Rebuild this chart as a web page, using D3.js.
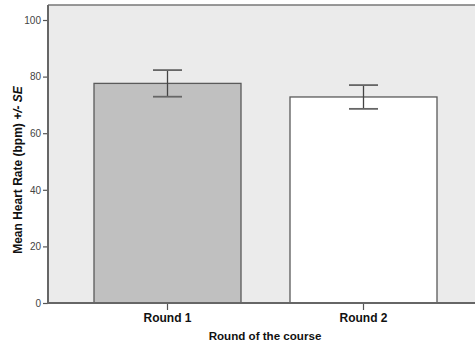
<!DOCTYPE html>
<html><head><meta charset="utf-8">
<script src="https://cdn.jsdelivr.net/npm/d3@7"></script>
<style>body{margin:0;background:#fff}svg{display:block}</style>
</head><body>
<svg id="c" width="475" height="344"></svg>
<script>
const categories = ["Round 1", "Round 2"];
const means = [77.6, 72.8];
const upper = [82.3, 77.0];
const lower = [72.9, 68.6];
const yTicks = [0, 20, 40, 60, 80, 100];
const fills = ["#c0c0c0", "#ffffff"];

const svg = d3.select("#c");
const L = 48, R = 475, T = 5, B = 303;
const y = d3.scaleLinear().domain([0, 100]).range([B, 20]);
const x = d3.scaleBand().domain(categories).range([69.5, 461.5]).paddingInner(0.25).paddingOuter(0.125);

svg.append("rect").attr("x", L).attr("y", T).attr("width", R - L).attr("height", B - T).attr("fill", "#ebebeb");
svg.append("line").attr("x1", L).attr("x2", R).attr("y1", T).attr("y2", T).attr("stroke", "#777").attr("stroke-width", 1.5);

svg.selectAll("rect.bar").data(categories).enter().append("rect").attr("class", "bar")
  .attr("x", d => x(d)).attr("width", x.bandwidth())
  .attr("y", (d, i) => y(means[i])).attr("height", (d, i) => y(0) - y(means[i]))
  .attr("fill", (d, i) => fills[i]).attr("stroke", "#5a5a5a").attr("stroke-width", 1.3);

const eb = svg.append("g").attr("stroke", "#444").attr("stroke-width", 1.3);
categories.forEach((c, i) => {
  const cx = x(c) + x.bandwidth() / 2;
  eb.append("line").attr("x1", cx).attr("x2", cx).attr("y1", y(upper[i])).attr("y2", y(lower[i]));
  eb.append("line").attr("x1", cx - 14.5).attr("x2", cx + 14.5).attr("y1", y(upper[i])).attr("y2", y(upper[i])).attr("stroke", "#666").attr("stroke-width", 1.8);
  eb.append("line").attr("x1", cx - 14.5).attr("x2", cx + 14.5).attr("y1", y(lower[i])).attr("y2", y(lower[i])).attr("stroke", "#666").attr("stroke-width", 1.8);
});

// y axis
const ya = svg.append("g").attr("transform", `translate(${L},0)`)
  .call(d3.axisLeft(y).tickValues(yTicks).tickSize(5).tickPadding(2));
ya.select(".domain").remove();
ya.selectAll(".tick line").attr("stroke", "#555").attr("stroke-width", 1.2);
ya.selectAll(".tick text").attr("fill", "#444").style("font-family", "Liberation Sans, Arial, sans-serif").style("font-size", "10px");
svg.append("line").attr("x1", L).attr("x2", L).attr("y1", T).attr("y2", B + 1).attr("stroke", "#666").attr("stroke-width", 2);

// x axis
const xa = svg.append("g").attr("transform", `translate(0,${B})`)
  .call(d3.axisBottom(x).tickSize(7).tickPadding(3));
xa.select(".domain").remove();
xa.selectAll(".tick line").attr("stroke", "#555").attr("stroke-width", 1.2);
xa.selectAll(".tick text").attr("fill", "#111").style("font-family", "Liberation Sans, Arial, sans-serif").style("font-size", "12px").style("font-weight", "bold");
svg.append("line").attr("x1", L).attr("x2", R).attr("y1", B).attr("y2", B).attr("stroke", "#666").attr("stroke-width", 2);

svg.append("text").attr("x", 265).attr("y", 340).attr("text-anchor", "middle")
  .style("font-family", "Liberation Sans, Arial, sans-serif").style("font-size", "11.6px").style("font-weight", "bold").attr("fill", "#111")
  .text("Round of the course");

const yt = svg.append("text").attr("transform", "translate(21.5,170) rotate(-90)").attr("text-anchor", "middle")
  .style("font-family", "Liberation Sans, Arial, sans-serif").style("font-size", "12px").style("font-weight", "bold").attr("fill", "#111");
yt.append("tspan").text("Mean Heart Rate (bpm) ");
yt.append("tspan").style("font-style", "italic").text(" +/- SE");
</script>
</body></html>
